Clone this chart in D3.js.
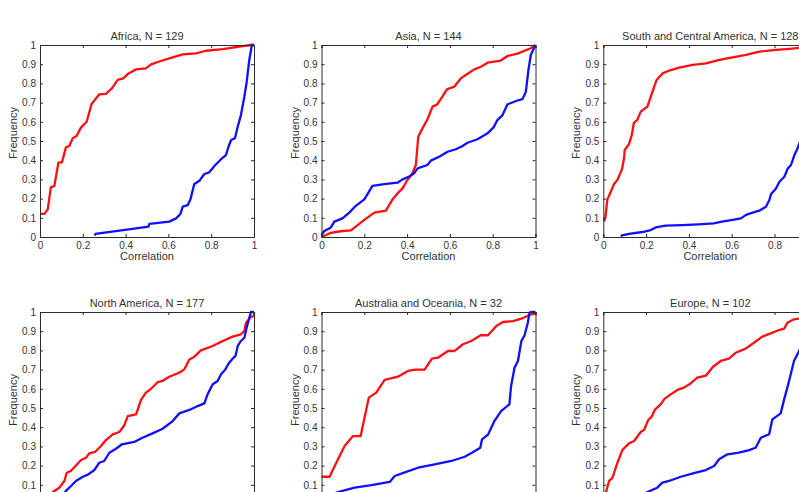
<!DOCTYPE html>
<html><head><meta charset="utf-8">
<script src="https://cdn.jsdelivr.net/npm/d3@7"></script>
<style>
html,body{margin:0;padding:0;background:#fff;overflow:hidden;}
svg{display:block;font-family:"Liberation Sans",Arial,Helvetica,sans-serif;}
</style></head>
<body>
<svg id="chart" width="799" height="492"></svg>
<script>
// ---- data ----
const titles = ["Africa, N = 129","Asia, N = 144","South and Central America, N = 128",
                "North America, N = 177","Australia and Oceania, N = 32","Europe, N = 102"];
const xTicks = [0,0.2,0.4,0.6,0.8,1];
const yTicks = [0,0.1,0.2,0.3,0.4,0.5,0.6,0.7,0.8,0.9,1];
const xLabel = "Correlation";
const yLabel = "Frequency";

const africaRed = [[0,0.12],[0.02,0.12],[0.036,0.144],[0.051,0.26],[0.067,0.265],[0.086,0.387],[0.103,0.39],[0.121,0.467],[0.137,0.474],[0.153,0.514],[0.171,0.526],[0.192,0.571],[0.218,0.6],[0.241,0.693],[0.277,0.743],[0.308,0.745],[0.336,0.774],[0.363,0.818],[0.389,0.826],[0.414,0.852],[0.449,0.873],[0.495,0.878],[0.519,0.899],[0.558,0.914],[0.604,0.93],[0.667,0.951],[0.729,0.956],[0.776,0.97],[0.854,0.979],[0.931,0.991],[0.986,1.0],[1,1]];
const africaBlue = [[0.255,0.008],[0.259,0.016],[0.371,0.033],[0.449,0.045],[0.507,0.054],[0.511,0.068],[0.604,0.08],[0.636,0.097],[0.656,0.12],[0.667,0.158],[0.69,0.166],[0.703,0.196],[0.721,0.276],[0.745,0.293],[0.768,0.328],[0.791,0.337],[0.815,0.37],[0.846,0.405],[0.869,0.427],[0.882,0.474],[0.893,0.505],[0.911,0.514],[0.924,0.575],[0.939,0.635],[0.955,0.731],[0.966,0.809],[0.978,0.922],[0.99,1.0],[1,1]];

const asiaRed = [[0,0],[0.044,0.022],[0.09,0.03],[0.137,0.034],[0.16,0.054],[0.2,0.089],[0.247,0.127],[0.301,0.137],[0.332,0.196],[0.355,0.227],[0.379,0.253],[0.399,0.293],[0.425,0.332],[0.441,0.375],[0.452,0.522],[0.472,0.566],[0.495,0.613],[0.519,0.679],[0.54,0.69],[0.565,0.731],[0.586,0.769],[0.62,0.783],[0.651,0.826],[0.674,0.844],[0.714,0.873],[0.745,0.887],[0.776,0.908],[0.838,0.919],[0.869,0.943],[0.916,0.955],[0.978,0.983],[1,1]];
const asiaBlue = [[0,0.01],[0.012,0.03],[0.044,0.05],[0.06,0.08],[0.098,0.097],[0.13,0.127],[0.156,0.158],[0.2,0.196],[0.217,0.227],[0.238,0.266],[0.293,0.275],[0.355,0.283],[0.379,0.3],[0.41,0.315],[0.433,0.332],[0.449,0.357],[0.495,0.375],[0.511,0.398],[0.55,0.418],[0.589,0.444],[0.628,0.457],[0.659,0.474],[0.682,0.491],[0.729,0.509],[0.776,0.54],[0.804,0.571],[0.822,0.609],[0.846,0.635],[0.869,0.691],[0.916,0.711],[0.939,0.718],[0.955,0.757],[0.967,0.87],[0.978,0.948],[1,1]];

const scaRed = [[0.003,0.08],[0.01,0.105],[0.019,0.196],[0.035,0.236],[0.05,0.276],[0.066,0.297],[0.087,0.352],[0.097,0.41],[0.1,0.453],[0.12,0.484],[0.133,0.531],[0.143,0.595],[0.159,0.61],[0.175,0.653],[0.206,0.679],[0.23,0.757],[0.249,0.818],[0.277,0.852],[0.308,0.867],[0.355,0.882],[0.417,0.896],[0.48,0.904],[0.542,0.922],[0.604,0.936],[0.667,0.948],[0.729,0.965],[0.807,0.975],[0.869,0.98],[0.917,0.985],[0.96,0.99],[1,1]];
const scaBlue = [[0.082,0.004],[0.087,0.008],[0.12,0.016],[0.182,0.026],[0.222,0.036],[0.245,0.05],[0.291,0.059],[0.369,0.062],[0.446,0.066],[0.516,0.071],[0.555,0.08],[0.604,0.089],[0.643,0.097],[0.667,0.115],[0.698,0.127],[0.729,0.137],[0.76,0.158],[0.776,0.193],[0.784,0.224],[0.807,0.253],[0.823,0.288],[0.846,0.314],[0.862,0.357],[0.877,0.375],[0.893,0.427],[0.908,0.462],[0.916,0.488],[0.94,0.58],[0.97,0.75],[1,1]];

const naRed = [[0.0,0.006],[0.03,0.03],[0.05,0.05],[0.067,0.068],[0.09,0.085],[0.114,0.12],[0.125,0.163],[0.144,0.172],[0.168,0.201],[0.192,0.229],[0.215,0.241],[0.23,0.264],[0.257,0.271],[0.285,0.302],[0.308,0.333],[0.34,0.363],[0.371,0.375],[0.394,0.41],[0.41,0.458],[0.449,0.467],[0.472,0.542],[0.495,0.58],[0.519,0.6],[0.55,0.635],[0.572,0.641],[0.604,0.663],[0.651,0.684],[0.674,0.701],[0.698,0.753],[0.72,0.766],[0.752,0.8],[0.807,0.823],[0.854,0.849],[0.9,0.872],[0.939,0.884],[0.955,0.901],[0.963,0.944],[0.986,0.975],[1,0.98],[1,1]];
const naBlue = [[0.07,0.006],[0.1,0.04],[0.121,0.068],[0.145,0.094],[0.168,0.12],[0.2,0.142],[0.224,0.153],[0.254,0.177],[0.277,0.215],[0.3,0.224],[0.324,0.267],[0.355,0.288],[0.383,0.311],[0.44,0.323],[0.479,0.345],[0.526,0.368],[0.573,0.392],[0.62,0.432],[0.651,0.472],[0.698,0.49],[0.737,0.51],[0.768,0.524],[0.783,0.571],[0.807,0.624],[0.83,0.641],[0.846,0.676],[0.866,0.701],[0.882,0.733],[0.9,0.757],[0.913,0.77],[0.924,0.823],[0.939,0.849],[0.955,0.866],[0.966,0.92],[0.978,0.97],[0.986,1.0],[1,1]];

const aoRed = [[0,0.142],[0.038,0.142],[0.069,0.215],[0.108,0.302],[0.147,0.354],[0.183,0.354],[0.221,0.554],[0.256,0.58],[0.295,0.646],[0.357,0.663],[0.404,0.693],[0.44,0.7],[0.482,0.7],[0.516,0.757],[0.544,0.762],[0.591,0.797],[0.622,0.797],[0.661,0.832],[0.7,0.849],[0.744,0.879],[0.778,0.879],[0.817,0.927],[0.848,0.948],[0.895,0.953],[0.934,0.965],[0.98,0.988],[1,0.99],[1,1]];
const aoBlue = [[0.0,0.031],[0.02,0.04],[0.077,0.062],[0.155,0.085],[0.233,0.098],[0.319,0.115],[0.342,0.146],[0.396,0.167],[0.451,0.189],[0.529,0.207],[0.607,0.224],[0.669,0.246],[0.703,0.267],[0.742,0.293],[0.75,0.337],[0.778,0.361],[0.808,0.432],[0.839,0.484],[0.878,0.519],[0.886,0.615],[0.902,0.71],[0.918,0.745],[0.934,0.849],[0.949,0.879],[0.964,0.944],[0.972,0.997],[0.98,1.0],[1,1]];

const euRed = [[0.0,0.01],[0.005,0.03],[0.014,0.068],[0.027,0.12],[0.042,0.135],[0.066,0.215],[0.089,0.281],[0.12,0.316],[0.144,0.328],[0.175,0.375],[0.19,0.385],[0.21,0.4375],[0.226,0.455],[0.242,0.493],[0.268,0.519],[0.287,0.549],[0.315,0.571],[0.346,0.594],[0.377,0.606],[0.408,0.628],[0.439,0.658],[0.479,0.668],[0.513,0.715],[0.549,0.745],[0.587,0.757],[0.619,0.788],[0.665,0.809],[0.704,0.84],[0.743,0.872],[0.782,0.889],[0.821,0.906],[0.845,0.913],[0.86,0.944],[0.891,0.962],[0.914,0.965],[0.96,0.985],[1,1]];
const euBlue = [[0.14,0.01],[0.17,0.03],[0.206,0.062],[0.252,0.085],[0.276,0.111],[0.307,0.12],[0.362,0.142],[0.432,0.163],[0.479,0.177],[0.518,0.198],[0.541,0.233],[0.58,0.259],[0.634,0.268],[0.681,0.281],[0.712,0.293],[0.736,0.345],[0.775,0.363],[0.79,0.441],[0.829,0.472],[0.845,0.545],[0.86,0.606],[0.876,0.676],[0.891,0.745],[0.911,0.788],[0.94,0.86],[0.97,0.93],[1,1]];

const redSeries = [africaRed, asiaRed, scaRed, naRed, aoRed, euRed];
const blueSeries = [africaBlue, asiaBlue, scaBlue, naBlue, aoBlue, euBlue];

// ---- layout ----
const svg = d3.select("#chart");
const W = 214, H = 192;
const lefts = [40, 321.5, 603.3];
const tops = [45, 312];
const textCol = "#333";
const axisCol = "#2b2b2b";

titles.forEach((t, i) => {
  const col = i % 3, row = Math.floor(i / 3);
  const g = svg.append("g").attr("transform", `translate(${lefts[col]},${tops[row]})`);
  const x = d3.scaleLinear().domain([0, 1]).range([0, W]);
  const y = d3.scaleLinear().domain([0, 1]).range([H, 0]);

  // curves
  const line = d3.line().x(d => x(d[0])).y(d => y(d[1]));
  g.append("path").datum(redSeries[i]).attr("d", line)
    .attr("fill", "none").attr("stroke", "#ff1010").attr("stroke-width", 2.3).attr("stroke-linejoin", "round");
  g.append("path").datum(blueSeries[i]).attr("d", line)
    .attr("fill", "none").attr("stroke", "#1010ff").attr("stroke-width", 2.3).attr("stroke-linejoin", "round");

  // axes
  const gx = g.append("g").attr("transform", `translate(0,${H})`)
    .call(d3.axisBottom(x).tickValues(xTicks).tickSize(-3).tickPadding(6).tickFormat(d3.format("")));
  const gy = g.append("g")
    .call(d3.axisLeft(y).tickValues(yTicks).tickSize(-3).tickPadding(4).tickFormat(d3.format("")));
  const gxt = g.append("g").call(d3.axisTop(x).tickValues(xTicks).tickSize(-3).tickFormat(""));
  const gyr = g.append("g").attr("transform", `translate(${W},0)`).call(d3.axisRight(y).tickValues(yTicks).tickSize(-3).tickFormat(""));
  [gx, gy, gxt, gyr].forEach(a => {
    a.select(".domain").attr("stroke", axisCol).attr("stroke-width", 1);
    a.selectAll(".tick line").attr("stroke", axisCol);
    a.selectAll("text").attr("fill", textCol).attr("font-size", 10)
      .attr("font-family", "'Liberation Sans', Arial, sans-serif");
  });
  gx.selectAll("text").attr("dy", "0.71em").attr("y", 5);

  // labels
  g.append("text").attr("x", W / 2).attr("y", -5).attr("text-anchor", "middle")
    .attr("font-size", 11).attr("fill", textCol).text(t);
  g.append("text").attr("x", W / 2).attr("y", H + 23).attr("text-anchor", "middle")
    .attr("font-size", 11).attr("fill", textCol).text(xLabel);
  g.append("text").attr("transform", `translate(-23,${H / 2 - 8}) rotate(-90)`)
    .attr("text-anchor", "middle").attr("font-size", 11).attr("fill", textCol).text(yLabel);
});
</script>
</body></html>
